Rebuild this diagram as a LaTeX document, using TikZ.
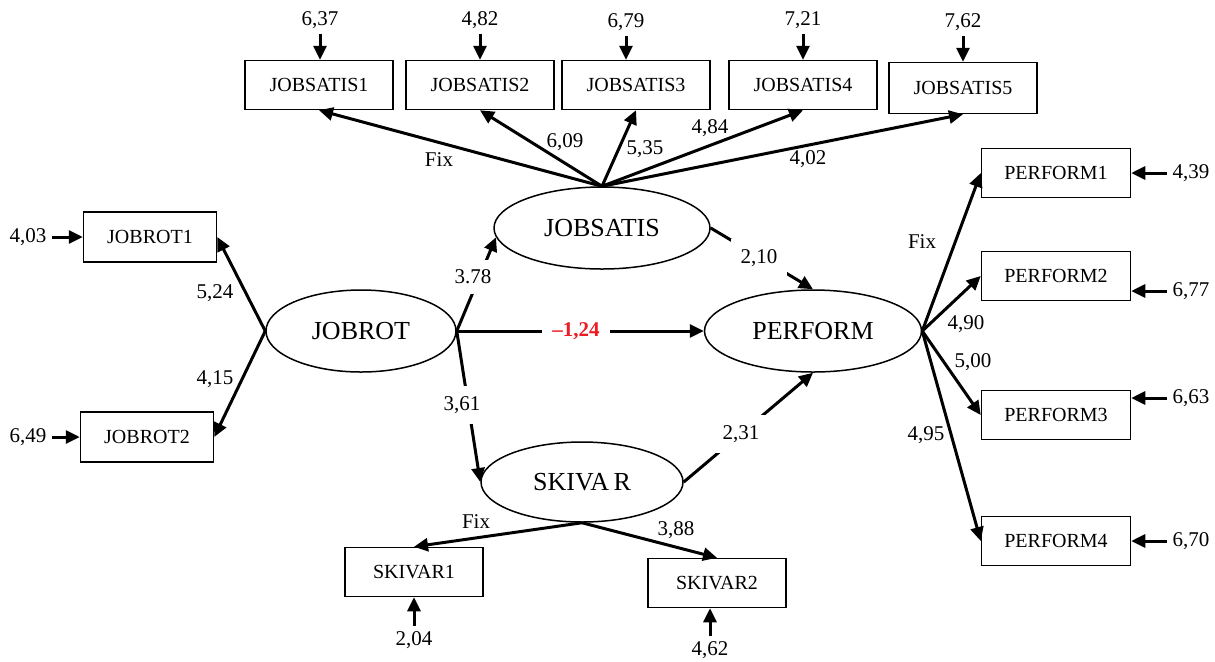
\documentclass[tikz,border=0pt]{standalone}
\usepackage{fontspec}
\setmainfont{Liberation Serif}
\usetikzlibrary{arrows.meta,shapes.geometric}
\definecolor{coefred}{RGB}{237,28,36}

\begin{document}
\begin{tikzpicture}[x=0.5pt,y=-0.5pt]
    \tikzset{latent/.style = {shape=ellipse, draw, line width=0.75pt, inner sep=0pt, minimum width=108pt, minimum height=41pt, font=\fontsize{13}{15}\selectfont}}
    \tikzset{manifest/.style = {shape=rectangle, draw, line width=0.75pt, inner sep=0pt, minimum width=74pt, minimum height=24.5pt, font=\fontsize{10}{12}\selectfont}}
    \tikzset{coef/.style = {inner sep=1pt, font=\fontsize{10.5}{12}\selectfont}}
    \tikzset{oncoef/.style = {coef, fill=white, inner sep=5pt}}
    \tikzset{edge/.style = {draw, line width=1.5pt, -{Triangle[length=7pt,width=6.5pt]}}}
    \tikzset{errline/.style = {edge, shorten <=1.5pt}}

    \useasboundingbox (0,0) rectangle (1215,661);

    % latent variables
    \node[latent] (js) at (602,228) {JOBSATIS};
    \node[latent, minimum width=95pt] (jr) at (361,331) {JOBROT};
    \node[latent, minimum width=108.5pt] (pf) at (813,331) {PERFORM};
    \node[latent, minimum width=101pt, minimum height=40pt] (sk) at (582,482) {SKIVA\,R};

    % indicators
    \node[manifest] (js1) at (319,85) {JOBSATIS1};
    \node[manifest] (js2) at (480,85) {JOBSATIS2};
    \node[manifest] (js3) at (636,85) {JOBSATIS3};
    \node[manifest] (js4) at (803,85) {JOBSATIS4};
    \node[manifest, minimum height=25.5pt] (js5) at (963,88) {JOBSATIS5};
    \node[manifest, minimum width=66.5pt, minimum height=25pt] (jr1) at (150,237) {JOBROT1};
    \node[manifest, minimum width=66.5pt, minimum height=25pt] (jr2) at (147,437) {JOBROT2};
    \node[manifest, minimum width=69pt] (sk1) at (414,572) {SKIVAR1};
    \node[manifest, minimum width=69pt] (sk2) at (717,583) {SKIVAR2};
    \node[manifest, minimum width=74.5pt] (pf1) at (1056,173) {PERFORM1};
    \node[manifest, minimum width=74.5pt] (pf2) at (1056,276) {PERFORM2};
    \node[manifest, minimum width=74.5pt] (pf3) at (1056,415) {PERFORM3};
    \node[manifest, minimum width=74.5pt] (pf4) at (1056,541) {PERFORM4};

    % error terms
    \node[coef] (e1) at (320,20) {6,37};
    \node[coef] (e2) at (480,20) {4,82};
    \node[coef] (e3) at (626,22) {6,79};
    \node[coef] (e4) at (803,20) {7,21};
    \node[coef] (e5) at (963,22) {7,62};
    \node[coef] (e6) at (28,237) {4,03};
    \node[coef] (e7) at (28,437) {6,49};
    \node[coef] (e8) at (1191,173) {4,39};
    \node[coef] (e9) at (1191,291) {6,77};
    \node[coef] (e10) at (1191,398) {6,63};
    \node[coef] (e11) at (1191,541) {6,70};
    \node[coef] (e12) at (414,640) {2,04};
    \node[coef] (e13) at (710,650) {4,62};

    \draw[errline] (e1.south) -- (e1.south |- js1.north);
    \draw[errline] (e2.south) -- (e2.south |- js2.north);
    \draw[errline] (e3.south) -- (e3.south |- js3.north);
    \draw[errline] (e4.south) -- (e4.south |- js4.north);
    \draw[errline] (e5.south) -- (e5.south |- js5.north);
    \draw[errline] (e6.east) -- (e6.east -| jr1.west);
    \draw[errline] (e7.east) -- (e7.east -| jr2.west);
    \draw[errline] (e8.west) -- (e8.west -| pf1.east);
    \draw[errline] (e9.west) -- (e9.west -| pf2.east);
    \draw[errline] (e10.west) -- (e10.west -| pf3.east);
    \draw[errline] (e11.west) -- (e11.west -| pf4.east);
    \draw[errline] (e12.north) -- (e12.north |- sk1.south);
    \draw[errline] (e13.north) -- (e13.north |- sk2.south);

    % loadings
    \draw[edge] (js.north) -- (js1.south);
    \draw[edge] (js.north) -- (js2.south);
    \draw[edge] (js.north) -- (js3.south);
    \draw[edge] (js.north) -- (js4.south);
    \draw[edge] (js.north) -- (js5.south);
    \draw[edge] (jr.west) -- (jr1.east);
    \draw[edge] (jr.west) -- (jr2.east);
    \draw[edge] (sk.south) -- (sk1.north);
    \draw[edge] (sk.south) -- (sk2.north);
    \draw[edge] (pf.east) -- (pf1.west);
    \draw[edge] (pf.east) -- (pf2.west);
    \draw[edge] (pf.east) -- (pf3.west);
    \draw[edge] (pf.east) -- (pf4.west);

    % structural paths
    \draw[edge] (jr.east) -- (js.185);
    \draw[edge] (jr.east) -- (sk.west);
    \draw[edge] (jr.east) -- (pf.west);
    \draw[edge] (js.east) -- (pf.north);
    \draw[edge] (sk.east) -- (pf.south);

    % coefficients
    \node[coef] (l1) at (439,160) {Fix};
    \node[coef] (l2) at (565,142) {6,09};
    \node[coef] (l3) at (645,149) {5,35};
    \node[coef] (l4) at (710,128) {4,84};
    \node[coef] (l5) at (808,159) {4,02};
    \node[coef] (l6) at (215,293) {5,24};
    \node[coef] (l7) at (215,379) {4,15};
    \node[coef] (l8) at (476,522) {Fix};
    \node[coef] (l9) at (676,530) {3,88};
    \node[coef] (l10) at (922,242) {Fix};
    \node[coef] (l11) at (966,324) {4,90};
    \node[coef] (l12) at (973,362) {5,00};
    \node[coef] (l13) at (926,435) {4,95};
    \node[oncoef] (l14) at (473,277) {3.78};
    \node[oncoef] (l15) at (462,405) {3,61};
    \node[oncoef, text=coefred, font=\fontsize{10.5}{12}\selectfont\bfseries] (l16) at (576,331) {--1,24};
    \node[oncoef] (l17) at (759,258) {2,10};
    \node[oncoef] (l18) at (741,434) {2,31};
\end{tikzpicture}
\end{document}
